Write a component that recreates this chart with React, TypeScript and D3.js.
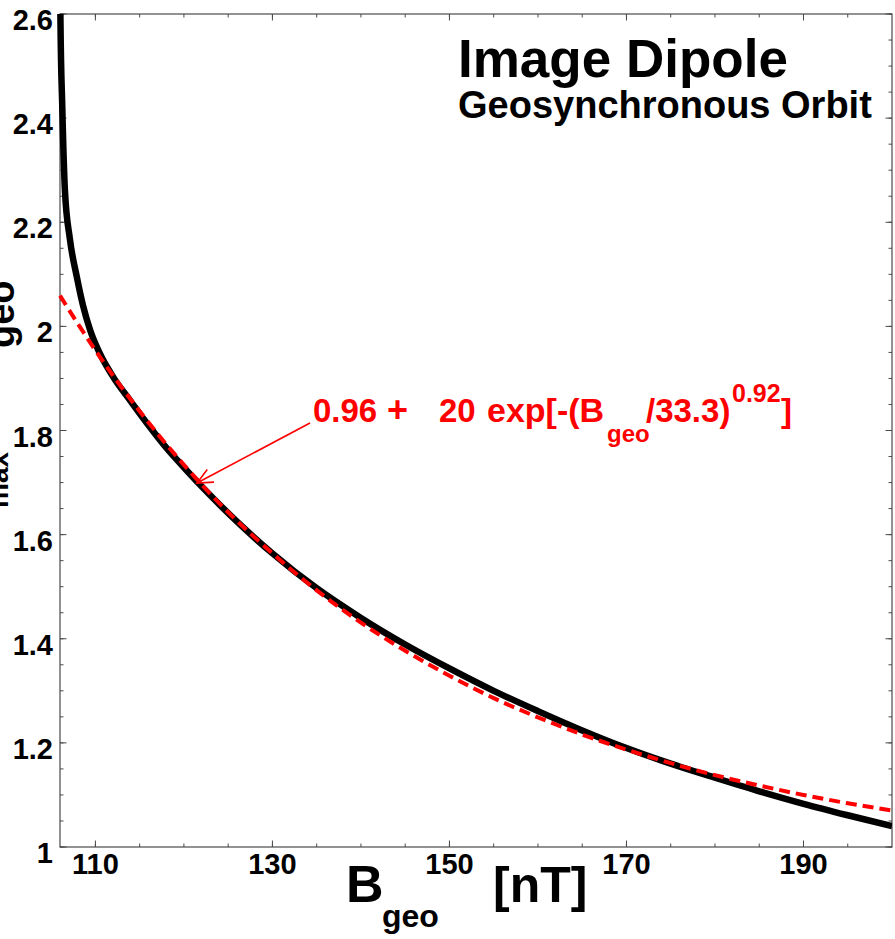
import React from "react";
import * as d3 from "d3";

// Black curve (model)
const B_MODEL = [106.0, 106.05, 106.26, 106.56, 107.1, 107.9, 108.6, 109.4, 110.5, 112, 114, 116, 118, 120, 123, 126, 130, 135, 140, 145, 150, 155, 160, 165, 170, 175, 180, 185, 190, 195, 200];
const V_MODEL = [2.72, 2.59, 2.42, 2.26, 2.17, 2.095, 2.04, 1.993, 1.948, 1.903, 1.856, 1.81, 1.767, 1.729, 1.675, 1.625, 1.564, 1.497, 1.44, 1.389, 1.343, 1.3, 1.261, 1.224, 1.19, 1.16, 1.133, 1.107, 1.083, 1.061, 1.04];

// Red dashed fit curve
const B_FIT = [106, 110, 115, 120, 125, 130, 135, 140, 145, 150, 155, 160, 165, 170, 175, 180, 185, 190, 195, 200];
const V_FIT = [2.059, 1.954, 1.837, 1.734, 1.643, 1.564, 1.493, 1.431, 1.377, 1.329, 1.286, 1.249, 1.216, 1.187, 1.161, 1.138, 1.118, 1.1, 1.084, 1.07];

const X_TICKS = [110, 130, 150, 170, 190];
const X_TICK_LABELS = ["110", "130", "150", "170", "190"];
const Y_TICKS = [1, 1.2, 1.4, 1.6, 1.8, 2, 2.2, 2.4, 2.6];
const Y_TICK_LABELS = ["1", "1.2", "1.4", "1.6", "1.8", "2", "2.2", "2.4", "2.6"];
const X_DOMAIN = [106, 200];
const Y_DOMAIN = [1, 2.6];

const FONT = "'Liberation Sans', Arial, Helvetica, sans-serif";

export default function App() {
  const W = 895, H = 939;
  const L = 60, R = 892, T = 14, Bt = 847;
  const x = d3.scaleLinear().domain(X_DOMAIN).range([L, R]);
  const y = d3.scaleLinear().domain(Y_DOMAIN).range([Bt, T]);

  const xMinor = d3.range(110, 200, 5);
  const yMinor = d3.range(1, 2.6001, 0.05);

  const line = d3.line<[number, number]>().x(d => x(d[0])).y(d => y(d[1])).curve(d3.curveMonotoneX);
  const model = line(B_MODEL.map((b, i) => [b, V_MODEL[i]]) as [number, number][]) || "";
  const fit = line(B_FIT.map((b, i) => [b, V_FIT[i]]) as [number, number][]) || "";

  const axisColor = "#4a4a4a";

  // arrow
  const tail = [310, 423], tip = [197, 483];
  const ang = Math.atan2(tail[1] - tip[1], tail[0] - tip[0]);
  const al = 17, spread = (25 * Math.PI) / 180;
  const a1 = [tip[0] + al * Math.cos(ang + spread), tip[1] + al * Math.sin(ang + spread)];
  const a2 = [tip[0] + al * Math.cos(ang - spread), tip[1] + al * Math.sin(ang - spread)];

  return (
    <svg width={W} height={H} style={{ position: "absolute", left: 0, top: 0, background: "#fff" }} fontFamily={FONT}>
      <defs>
        <clipPath id="plotclip">
          <rect x={40} y={T} width={R - 40} height={Bt - T} />
        </clipPath>
      </defs>
      <rect x={0} y={0} width={W} height={H} fill="#fff" />

      {/* minor ticks */}
      {xMinor.map(v => (
        <g key={"xm" + v}>
          <line x1={x(v)} x2={x(v)} y1={Bt} y2={Bt - 3.5} stroke={axisColor} strokeWidth={1} />
          <line x1={x(v)} x2={x(v)} y1={T} y2={T + 3.5} stroke={axisColor} strokeWidth={1} />
        </g>
      ))}
      {yMinor.map(v => (
        <g key={"ym" + v}>
          <line x1={L} x2={L + 3.5} y1={y(v)} y2={y(v)} stroke={axisColor} strokeWidth={1} />
          <line x1={R} x2={R - 3.5} y1={y(v)} y2={y(v)} stroke={axisColor} strokeWidth={1} />
        </g>
      ))}
      {/* major ticks */}
      {X_TICKS.map(v => (
        <g key={"xM" + v}>
          <line x1={x(v)} x2={x(v)} y1={Bt} y2={Bt - 6.5} stroke={axisColor} strokeWidth={1} />
          <line x1={x(v)} x2={x(v)} y1={T} y2={T + 6.5} stroke={axisColor} strokeWidth={1} />
        </g>
      ))}
      {Y_TICKS.map(v => (
        <g key={"yM" + v}>
          <line x1={L} x2={L + 6.5} y1={y(v)} y2={y(v)} stroke={axisColor} strokeWidth={1} />
          <line x1={R} x2={R - 6.5} y1={y(v)} y2={y(v)} stroke={axisColor} strokeWidth={1} />
        </g>
      ))}
      <rect x={L} y={T} width={R - L} height={Bt - T} fill="none" stroke={axisColor} strokeWidth={1.2} />

      {/* tick labels */}
      {X_TICKS.map((v, i) => (
        <text key={"xl" + v} x={x(v)} y={874} textAnchor="middle" fontSize={29} fontWeight="bold" fill="#000">
          {X_TICK_LABELS[i]}
        </text>
      ))}
      {Y_TICKS.map((v, i) => (
        <text key={"yl" + v} x={53} y={y(v) + 16} textAnchor="end" fontSize={29} fontWeight="bold" fill="#000">
          {Y_TICK_LABELS[i]}
        </text>
      ))}

      {/* curves */}
      <g clipPath="url(#plotclip)">
        <path d={model} fill="none" stroke="#000" strokeWidth={6.5} strokeLinejoin="round" />
        <path d={fit} fill="none" stroke="#ff0000" strokeWidth={4} strokeDasharray="11 6" />
      </g>

      {/* titles */}
      <text x={458} y={77} fontSize={53} fontWeight="bold" fill="#000">Image Dipole</text>
      <text x={458} y={118} fontSize={38} fontWeight="bold" fill="#000">Geosynchronous Orbit</text>

      {/* annotation */}
      <line x1={tail[0]} y1={tail[1]} x2={tip[0]} y2={tip[1]} stroke="#ff0000" strokeWidth={1.6} />
      <polyline points={`${a1[0]},${a1[1]} ${tip[0]},${tip[1]} ${a2[0]},${a2[1]}`} fill="none" stroke="#ff0000" strokeWidth={1.6} />
      <g fill="#ff0000" fontWeight="bold">
        <text x={313} y={422} fontSize={33}>0.96</text>
        <text x={387} y={422} fontSize={36}>+</text>
        <text x={439} y={422} fontSize={33}>20</text>
        <text x={487} y={422} fontSize={34}>exp[-(B</text>
        <text x={607} y={442} fontSize={24}>geo</text>
        <text x={646} y={422} fontSize={33}>/33.3)</text>
        <text x={732} y={402} fontSize={25}>0.92</text>
        <text x={781} y={422} fontSize={33}>]</text>
      </g>

      {/* x axis title */}
      <text x={346} y={902} fontSize={52} fontWeight="bold" fill="#000">B</text>
      <text x={382} y={927} fontSize={32} fontWeight="bold" fill="#000">geo</text>
      <text x={493} y={902} fontSize={50} fontWeight="bold" fill="#000">[nT]</text>

      {/* y axis title (mostly cut off at the left edge, as in the original) */}
      <text transform={`translate(8,508) rotate(-90)`} fontSize={28} fontWeight="bold" fill="#000">max</text>
      <text transform={`translate(14,348) rotate(-90)`} fontSize={38} fontWeight="bold" fill="#000">geo</text>
    </svg>
  );
}
